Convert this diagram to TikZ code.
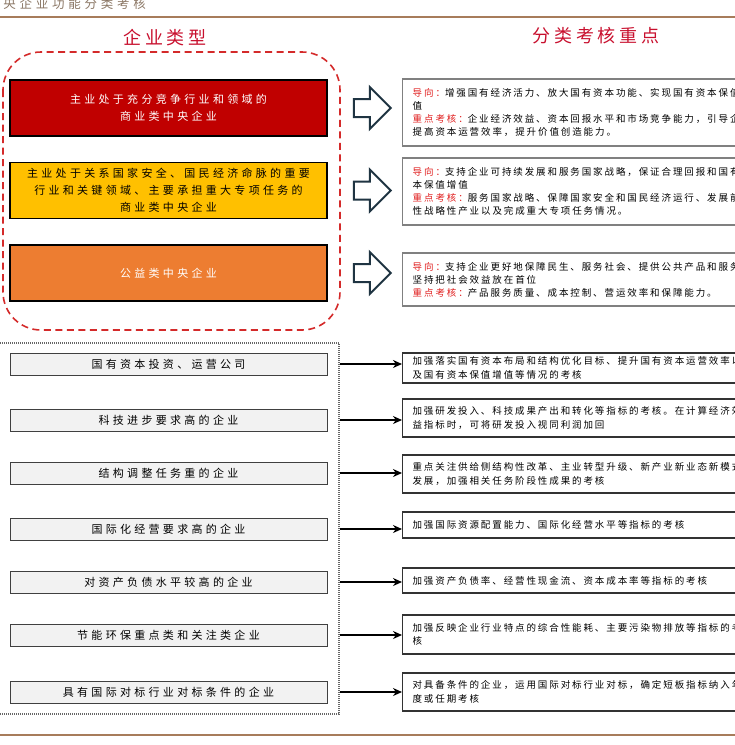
\documentclass[tikz,border=0pt]{standalone}
\usepackage{fontspec}
\setmainfont{Noto Sans CJK SC}
\newfontfamily\cjktitle[LetterSpace=22]{Noto Sans CJK SC}
\newfontfamily\cjkbox[LetterSpace=30]{Noto Sans CJK SC}
\newfontfamily\cjknote[LetterSpace=20]{Noto Sans CJK SC}
\usetikzlibrary{positioning,shapes.arrows,arrows.meta}

\definecolor{titlered}{HTML}{C8102E}
\definecolor{dashred}{HTML}{D42A2A}
\definecolor{boxred}{HTML}{C00000}
\definecolor{boxgold}{HTML}{FFC000}
\definecolor{boxorange}{HTML}{ED7D31}
\definecolor{rulebrown}{HTML}{A77C5B}
\definecolor{headgray}{HTML}{8B7765}
\definecolor{arrowslate}{HTML}{1F3442}
\definecolor{notered}{HTML}{E02020}

\tikzset{
  typebox/.style={draw=black, line width=1.5pt, minimum width=317pt, minimum height=56pt,
    inner sep=0pt, align=center, font={\cjkbox\fontsize{11}{17}\selectfont}},
  catbox/.style={draw=black!75, fill=black!5, line width=1pt, minimum width=317pt,
    minimum height=22pt, inner sep=0pt, font={\cjkbox\fontsize{11}{13}\selectfont}},
  focusbox/.style={draw=black!50, line width=1.4pt, anchor=west, text width=350pt,
    inner xsep=10pt, inner ysep=0pt, align=left, font={\cjknote\fontsize{9.5}{13}\selectfont}},
  notebox/.style={draw=black!80, line width=1.1pt, anchor=west, text width=350pt,
    inner xsep=10pt, inner ysep=0pt, align=left, font={\cjknote\fontsize{9.5}{13.5}\selectfont}},
  bigarrow/.style={single arrow, draw=arrowslate, line width=2pt, fill=white,
    minimum height=37pt, single arrow head extend=12pt, inner xsep=0pt, inner ysep=8pt},
  flow/.style={-{Stealth[length=9pt, width=8pt]}, line width=2pt},
  headline/.style={font={\cjktitle\fontsize{18}{20}\selectfont}, text=titlered}
}
\newcommand{\tag}[1]{\textcolor{notered}{#1}}

\begin{document}
\begin{tikzpicture}[x=1pt, y=-1pt]
  \useasboundingbox (0,0) rectangle (735,745);
  \clip (0,0) rectangle (735,745);

  % 页眉与页脚
  \node[anchor=base west, inner sep=0pt, text=headgray, font={\cjkbox\fontsize{12.5}{14}\selectfont}] (caption) at (-13,8) {中央企业功能分类考核};
  \draw[rulebrown, line width=1.2pt] (0,17) -- (735,17);
  \draw[rulebrown, line width=1.2pt] (0,735) -- (735,735);

  % 标题
  \node[headline] (typetitle) at (165,38) {企业类型};
  \node[headline] (focustitle) at (596,36) {分类考核重点};

  % 红色虚线框
  \draw[dashred, line width=1.6pt, dash pattern=on 7pt off 4.5pt, rounded corners=38pt] (3,52) rectangle (340,330);

  % 三类企业
  \node[typebox, fill=boxred, text=white] (t1) at (168.5,108) {主业处于充分竞争行业和领域的\\商业类中央企业};
  \node[typebox, fill=boxgold, text=black] (t2) at (168.5,190.5) {主业处于关系国家安全、国民经济命脉的重要\\行业和关键领域、主要承担重大专项任务的\\商业类中央企业};
  \node[typebox, fill=boxorange, text=white] (t3) at (168.5,273) {公益类中央企业};

  \node[bigarrow, right=25pt of t1] (a1) {};
  \node[bigarrow, right=25pt of t2] (a2) {};
  \node[bigarrow, right=25pt of t3] (a3) {};

  \node[focusbox, minimum height=67pt] (r1) at (402,112.5) {\tag{导向：}增强国有经济活力、放大国有资本功能、实现国有资本保值增\\值\\\tag{重点考核：}企业经济效益、资本回报水平和市场竞争能力，引导企业\\提高资本运营效率，提升价值创造能力。};
  \node[focusbox, minimum height=67pt] (r2) at (402,191.5) {\tag{导向：}支持企业可持续发展和服务国家战略，保证合理回报和国有资\\本保值增值\\\tag{重点考核：}服务国家战略、保障国家安全和国民经济运行、发展前瞻\\性战略性产业以及完成重大专项任务情况。};
  \node[focusbox, minimum height=53pt] (r3) at (402,279.5) {\tag{导向：}支持企业更好地保障民生、服务社会、提供公共产品和服务，\\坚持把社会效益放在首位\\\tag{重点考核：}产品服务质量、成本控制、营运效率和保障能力。};

  % 点线框
  \node[draw=black!60, line width=1.2pt, dash pattern=on 1pt off 1pt, minimum width=341pt, minimum height=371pt, inner sep=0pt] (frame) at (168.5,528.5) {};

  % 特殊类型企业
  \node[catbox] (l1) at (168.5,364) {国有资本投资、运营公司};
  \node[catbox] (l2) at (168.5,420) {科技进步要求高的企业};
  \node[catbox] (l3) at (168.5,473) {结构调整任务重的企业};
  \node[catbox] (l4) at (168.5,529) {国际化经营要求高的企业};
  \node[catbox] (l5) at (168.5,582) {对资产负债水平较高的企业};
  \node[catbox] (l6) at (168.5,635) {节能环保重点类和关注类企业};
  \node[catbox] (l7) at (168.5,692) {具有国际对标行业对标条件的企业};

  \node[notebox, minimum height=30pt] (q1) at (402,368) {加强落实国有资本布局和结构优化目标、提升国有资本运营效率以\\及国有资本保值增值等情况的考核};
  \node[notebox, minimum height=38pt] (q2) at (402,418) {加强研发投入、科技成果产出和转化等指标的考核。在计算经济效\\益指标时，可将研发投入视同利润加回};
  \node[notebox, minimum height=38pt] (q3) at (402,474) {重点关注供给侧结构性改革、主业转型升级、新产业新业态新模式\\发展，加强相关任务阶段性成果的考核};
  \node[notebox, minimum height=26pt] (q4) at (402,525) {加强国际资源配置能力、国际化经营水平等指标的考核};
  \node[notebox, minimum height=25pt] (q5) at (402,580.5) {加强资产负债率、经营性现金流、资本成本率等指标的考核};
  \node[notebox, minimum height=39pt] (q6) at (402,634.5) {加强反映企业行业特点的综合性能耗、主要污染物排放等指标的考\\核};
  \node[notebox, minimum height=38pt] (q7) at (402,692) {对具备条件的企业，运用国际对标行业对标，确定短板指标纳入年\\度或任期考核};

  % 箭头
  \draw[flow] (l1 -| frame.east) -- (l1 -| q1.west);
  \draw[flow] (l2 -| frame.east) -- (l2 -| q2.west);
  \draw[flow] (l3 -| frame.east) -- (l3 -| q3.west);
  \draw[flow] (l4 -| frame.east) -- (l4 -| q4.west);
  \draw[flow] (l5 -| frame.east) -- (l5 -| q5.west);
  \draw[flow] (l6 -| frame.east) -- (l6 -| q6.west);
  \draw[flow] (l7 -| frame.east) -- (l7 -| q7.west);
\end{tikzpicture}
\end{document}
